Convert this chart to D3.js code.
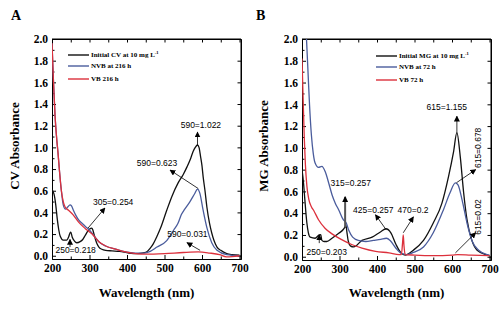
<!DOCTYPE html>
<meta charset="utf-8">
<script src="https://d3js.org/d3.v7.min.js"></script>
<style>
  body { margin: 0; background: #fff; }
  svg text { fill: #000; }
</style>
<div id="my_dataviz"></div>
<script>

// ---------- data: panel A (crystal violet) ----------
var cvInitW = [200,203,206,210,214,218,222,230,239,245,248,250,254,260,266,275,282,289,296,302,305,308,312,316,320,325,333,343,360,380,405,430,450,462,470,480,490,506,520,536,550,560,570,576,582,588,592,596,600,603,608,613,620,626,632,640,650,666,680,700];
var cvInitA = [0.61,0.59,0.56,0.47,0.34,0.24,0.18,0.145,0.145,0.18,0.21,0.218,0.17,0.135,0.12,0.13,0.15,0.19,0.23,0.25,0.254,0.245,0.2,0.15,0.11,0.08,0.06,0.05,0.045,0.04,0.025,0.02,0.03,0.07,0.11,0.18,0.26,0.42,0.55,0.67,0.75,0.82,0.9,0.96,1.0,1.022,1.0,0.92,0.83,0.73,0.6,0.45,0.3,0.21,0.14,0.08,0.05,0.02,0.01,0.005];

var cvNvbW = [200,204,208,212,216,220,225,230,236,242,248,252,257,264,271,280,289,302,315,325,343,370,396,423,445,462,480,506,525,536,545,554,568,580,588,594,603,613,626,640,666,700];
var cvNvbA = [1.96,1.6,1.3,1.1,0.95,0.78,0.6,0.47,0.43,0.45,0.47,0.46,0.42,0.37,0.33,0.3,0.27,0.23,0.17,0.13,0.09,0.06,0.035,0.025,0.025,0.04,0.08,0.14,0.24,0.3,0.38,0.43,0.5,0.57,0.615,0.58,0.42,0.26,0.12,0.05,0.01,0.0];

var cvVbW = [200,204,208,212,216,220,225,230,235,244,257,271,289,307,325,343,370,396,423,450,500,550,590,620,647,665,680,700];
var cvVbA = [1.96,1.6,1.3,1.1,0.95,0.78,0.6,0.5,0.45,0.42,0.375,0.31,0.25,0.2,0.13,0.09,0.06,0.035,0.02,0.015,0.02,0.03,0.035,0.025,0.01,-0.01,-0.008,0.0];

// ---------- data: panel B (malachite green) ----------
var mgInitW = [200,204,207,210,213,217,222,235,246,250,253,259,266,280,298,310,314,317,320,323,329,338,360,387,410,424,437,451,464,475,497,524,550,573,591,604,613,622,631,640,653,667,694,700];
var mgInitA = [0.8,0.68,0.55,0.42,0.31,0.22,0.18,0.17,0.2,0.203,0.15,0.14,0.14,0.17,0.215,0.25,0.27,0.29,0.22,0.15,0.1,0.09,0.15,0.18,0.23,0.257,0.22,0.11,0.035,0.015,0.06,0.15,0.31,0.49,0.74,0.96,1.14,0.92,0.59,0.34,0.15,0.06,0.015,0.01];

var mgNvbW = [208,212,216,220,225,230,235,244,253,262,271,280,289,298,310,318,325,335,350,370,390,410,425,435,450,465,480,497,524,550,577,595,609,616,627,640,653,671,694,700];
var mgNvbA = [2.3,2.0,1.7,1.4,1.12,0.95,0.86,0.82,0.83,0.78,0.68,0.57,0.49,0.43,0.34,0.31,0.24,0.18,0.15,0.14,0.15,0.16,0.17,0.15,0.08,0.03,0.02,0.04,0.09,0.22,0.43,0.59,0.678,0.66,0.52,0.31,0.15,0.06,0.02,0.015];

var mgVbW = [200,203,206,209,213,218,225,232,244,262,280,307,334,360,396,432,459,465,468,470,472,475,500,550,600,615,650,700];
var mgVbA = [1.82,1.45,1.1,0.85,0.65,0.53,0.46,0.42,0.34,0.26,0.21,0.155,0.11,0.08,0.05,0.035,0.02,0.02,0.12,0.2,0.1,0.02,0.015,0.01,0.015,0.02,0.015,0.01];

// ---------- tick values ----------
var xTicks = [200,300,400,500,600,700];
var xMinor = [250,350,450,550,650];
var yTicks = [0,0.2,0.4,0.6,0.8,1.0,1.2,1.4,1.6,1.8,2.0];
var yMinor = [0.1,0.3,0.5,0.7,0.9,1.1,1.3,1.5,1.7,1.9];

// ---------- annotations (wavelength, absorbance coords) ----------
var annA = [
  {text:"590=1.022", from:[588,1.02], to:[588,1.14], at:[597,1.18]},
  {text:"590=0.623", from:[590,0.62], to:[515,0.79], at:[480,0.83]},
  {text:"590=0.031", from:[595,0.05], to:[560,0.12], at:[561,0.17]},
  {text:"305=0.254", from:[296,0.255], to:[341,0.44], at:[363,0.47]},
  {text:"250=0.218", from:[248,0.08], to:[248,0.15], at:[263,0.025]}
];
var annB = [
  {text:"615=1.155", from:[613,1.14], to:[613,1.29], at:[586,1.35]},
  {text:"615=0.678", from:[612,0.68], to:[663,0.8], at:[668,1.0], rot:true},
  {text:"615=0.02", from:[609,0.035], to:[663,0.22], at:[668,0.365], rot:true},
  {text:"470=0.2", from:[470,0.22], to:[497,0.365], at:[496,0.40]},
  {text:"425=0.257", from:[425,0.245], to:[396,0.385], at:[390,0.40]},
  {text:"315=0.257", from:[315,0.27], to:[315,0.55], at:[330,0.65], thick:true},
  {text:"250=0.203", from:[246,0.125], to:[246,0.2], at:[266,0.015]}
];

var colBlack = "#111", colBlue = "#4a5c9c", colRed = "#dc303c";
var serif = "'Liberation Serif', 'Times New Roman', Times, serif";
var sans = "'Liberation Sans', Arial, Helvetica, sans-serif";

var svg = d3.select("#my_dataviz").append("svg")
  .attr("width", 504).attr("height", 312);

var defs = svg.append("defs");
defs.append("marker")
  .attr("id", "arrow")
  .attr("viewBox", "0 0 8 8")
  .attr("refX", 7).attr("refY", 4)
  .attr("markerWidth", 6).attr("markerHeight", 6)
  .attr("markerUnits", "userSpaceOnUse")
  .attr("orient", "auto")
  .append("path").attr("d", "M0,0 L8,4 L0,8 Z").attr("fill", "#000");

function drawPanel(p) {
  var x = d3.scaleLinear().domain([200, 704]).range([p.left, p.right]);
  var y = d3.scaleLinear().domain([-0.03, 2.0]).range([p.bottom, 39]);
  var g = svg.append("g");

  defs.append("clipPath").attr("id", "clip" + p.id)
    .append("rect").attr("x", p.left).attr("y", 39)
    .attr("width", p.right - p.left).attr("height", p.bottom - 39);

  // axes (ticks pointing inward)
  g.append("g").attr("transform", "translate(0," + p.bottom + ")")
    .call(d3.axisBottom(x).tickValues(xTicks).tickSize(-4).tickSizeOuter(0).tickPadding(5).tickFormat(d3.format("d")));
  g.append("g").attr("transform", "translate(0," + p.bottom + ")")
    .call(d3.axisBottom(x).tickValues(xMinor).tickSize(-2.5).tickSizeOuter(0).tickFormat(""));
  g.append("g").attr("transform", "translate(0,39)")
    .call(d3.axisTop(x).tickValues(xTicks.concat(xMinor)).tickSize(-3.5).tickSizeOuter(0).tickFormat(""));
  g.append("g").attr("transform", "translate(" + p.left + ",0)")
    .call(d3.axisLeft(y).tickValues(yTicks).tickSize(-4).tickSizeOuter(0).tickPadding(4).tickFormat(d3.format(".1f")));
  g.append("g").attr("transform", "translate(" + p.left + ",0)")
    .call(d3.axisLeft(y).tickValues(yMinor).tickSize(-2.5).tickSizeOuter(0).tickFormat(""));
  g.append("g").attr("transform", "translate(" + p.right + ",0)")
    .call(d3.axisRight(y).tickValues(yTicks).tickSize(-3.5).tickSizeOuter(0).tickFormat(""));
  g.selectAll(".domain").attr("stroke", "#000").attr("stroke-width", 1);
  g.selectAll(".tick line").attr("stroke", "#000");
  g.selectAll(".tick text")
    .style("font-family", serif).style("font-weight", "bold").style("font-size", "11.5px");
  // close the frame
  g.append("line").attr("x1", p.left).attr("x2", p.right).attr("y1", 39).attr("y2", 39).attr("stroke", "#000");
  g.append("line").attr("x1", p.right).attr("x2", p.right).attr("y1", 39).attr("y2", p.bottom).attr("stroke", "#000");

  var line = d3.line()
    .x(function(d) { return x(d[0]); })
    .y(function(d) { return y(d[1]); })
    .curve(d3.curveMonotoneX);

  var curves = g.append("g").attr("clip-path", "url(#clip" + p.id + ")");
  p.series.forEach(function(s) {
    curves.append("path")
      .datum(d3.zip(s.w, s.a))
      .attr("fill", "none")
      .attr("stroke", s.color)
      .attr("stroke-width", 1.3)
      .attr("d", line);
  });

  // legend
  p.series.forEach(function(s, i) {
    var ly = p.legY[i];
    g.append("line")
      .attr("x1", p.legX).attr("x2", p.legX + 21)
      .attr("y1", ly).attr("y2", ly)
      .attr("stroke", s.color).attr("stroke-width", 1.4);
    var t = g.append("text")
      .style("font-family", serif).style("font-weight", "bold").style("font-size", "7px")
      .attr("x", p.legX + 23).attr("y", ly + 2.3)
      .text(s.name);
    if (s.sup) t.append("tspan").attr("dy", -3).style("font-size", "4.5px").text(s.sup);
  });

  // annotations
  p.ann.forEach(function(a) {
    g.append("line")
      .attr("x1", x(a.from[0])).attr("y1", y(a.from[1]))
      .attr("x2", x(a.to[0])).attr("y2", y(a.to[1]))
      .attr("stroke", a.thick ? "#555" : "#000")
      .attr("stroke-width", a.thick ? 2 : 0.8)
      .attr("marker-end", "url(#arrow)");
    var tx = x(a.at[0]), ty = y(a.at[1]);
    g.append("text")
      .style("font-family", sans).style("font-size", "8.5px")
      .attr("text-anchor", "middle")
      .attr("transform", a.rot ? "translate(" + (tx + 3) + "," + ty + ")rotate(-90)" : "translate(" + tx + "," + ty + ")")
      .text(a.text);
  });

  // axis titles and panel letter
  svg.append("text")
    .style("font-family", serif).style("font-weight", "bold").style("font-size", "13px")
    .attr("text-anchor", "middle")
    .attr("x", (p.left + p.right) / 2).attr("y", 297)
    .text("Wavelength (nm)");
  svg.append("text")
    .style("font-family", serif).style("font-weight", "bold").style("font-size", "13px")
    .attr("text-anchor", "middle")
    .attr("transform", "translate(" + p.yTitleX + ",146)rotate(-90)")
    .text(p.yTitle);
  svg.append("text")
    .style("font-family", serif).style("font-weight", "bold").style("font-size", "14px")
    .attr("x", p.letterX).attr("y", 20)
    .text(p.letter);
}

drawPanel({
  id: "A", left: 52, right: 241, bottom: 259,
  letter: "A", letterX: 11, yTitle: "CV Absorbance", yTitleX: 19,
  legX: 68, legY: [55, 66, 79],
  series: [
    {name: "Initial CV at 10 mg L", sup: "-1", w: cvInitW, a: cvInitA, color: colBlack},
    {name: "NVB at 216 h", w: cvNvbW, a: cvNvbA, color: colBlue},
    {name: "VB 216 h", w: cvVbW, a: cvVbA, color: colRed}
  ],
  ann: annA
});

drawPanel({
  id: "B", left: 302, right: 491, bottom: 260,
  letter: "B", letterX: 256, yTitle: "MG Absorbance", yTitleX: 268,
  legX: 376, legY: [56, 67, 80],
  series: [
    {name: "Initial MG at 10 mg L", sup: "-1", w: mgInitW, a: mgInitA, color: colBlack},
    {name: "NVB at 72 h", w: mgNvbW, a: mgNvbA, color: colBlue},
    {name: "VB 72 h", w: mgVbW, a: mgVbA, color: colRed}
  ],
  ann: annB
});

</script>
